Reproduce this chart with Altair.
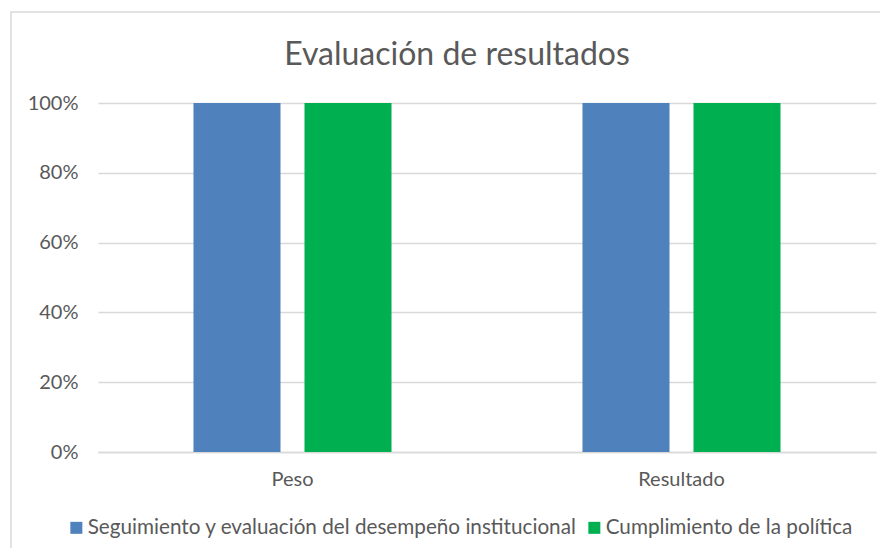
import altair as alt
import pandas as pd

categories = ["Peso", "Resultado"]
series = ["Seguimiento y evaluación del desempeño institucional", "Cumplimiento de la política"]
seguimiento = [1.0, 1.0]
cumplimiento = [1.0, 1.0]
colors = ["#4F81BD", "#00B050"]
y_ticks = [0, 0.2, 0.4, 0.6, 0.8, 1.0]

rows = []
for i, c in enumerate(categories):
    rows.append({"categoria": c, "serie": series[0], "valor": seguimiento[i]})
    rows.append({"categoria": c, "serie": series[1], "valor": cumplimiento[i]})
df = pd.DataFrame(rows)

FONT = "Lato"
GREY = "#595959"
LINE = "#d9d9d9"

bars = alt.Chart(df).mark_bar().encode(
    x=alt.X("categoria:N", sort=categories, title=None,
            scale=alt.Scale(paddingInner=0, paddingOuter=0),
            axis=alt.Axis(labelAngle=0, ticks=False, domain=True, domainColor=LINE,
                          domainWidth=1.5, labelFontSize=20, labelColor=GREY,
                          labelFont=FONT, labelPadding=17, grid=False)),
    xOffset=alt.XOffset("serie:N", sort=series,
                        scale=alt.Scale(paddingInner=0.216, paddingOuter=0.86)),
    y=alt.Y("valor:Q", title=None,
            scale=alt.Scale(domain=[0, 1]),
            axis=alt.Axis(values=y_ticks, format=".0%", ticks=False, domain=False,
                          grid=True, gridColor=LINE, gridWidth=1.5,
                          labelFontSize=20, labelColor=GREY, labelFont=FONT,
                          labelPadding=20)),
    color=alt.Color("serie:N", sort=series,
                    scale=alt.Scale(domain=series, range=colors),
                    legend=alt.Legend(title=None, orient="none", direction="horizontal",
                                      legendX=-32, legendY=414,
                                      symbolType="square", symbolSize=144,
                                      symbolStrokeWidth=0, labelFontSize=20.7,
                                      labelFont=FONT, labelColor=GREY,
                                      labelLimit=800, columnPadding=7,
                                      symbolOffset=0, labelOffset=1)),
)

border = alt.Chart(alt.Data(values=[{}])).mark_rect(
    fill=None, stroke=LINE, strokeWidth=1.5
).encode(
    x=alt.value(-87), x2=alt.value(830),
    y=alt.value(-91), y2=alt.value(500),
)

chart = alt.layer(border, bars).properties(
    width=778, height=349,
    padding={"left": 90, "top": 95, "right": 4, "bottom": 96},
    autosize=alt.AutoSizeParams(type="none"),
    title=alt.TitleParams("Evaluación de resultados", fontSize=32, font=FONT,
                          fontWeight="normal", color=GREY, anchor="middle",
                          baseline="middle", frame="group", dx=-30, offset=-76),
).configure_view(stroke=None)

chart.save("out.html", embed_options={"renderer": "svg", "actions": False})
